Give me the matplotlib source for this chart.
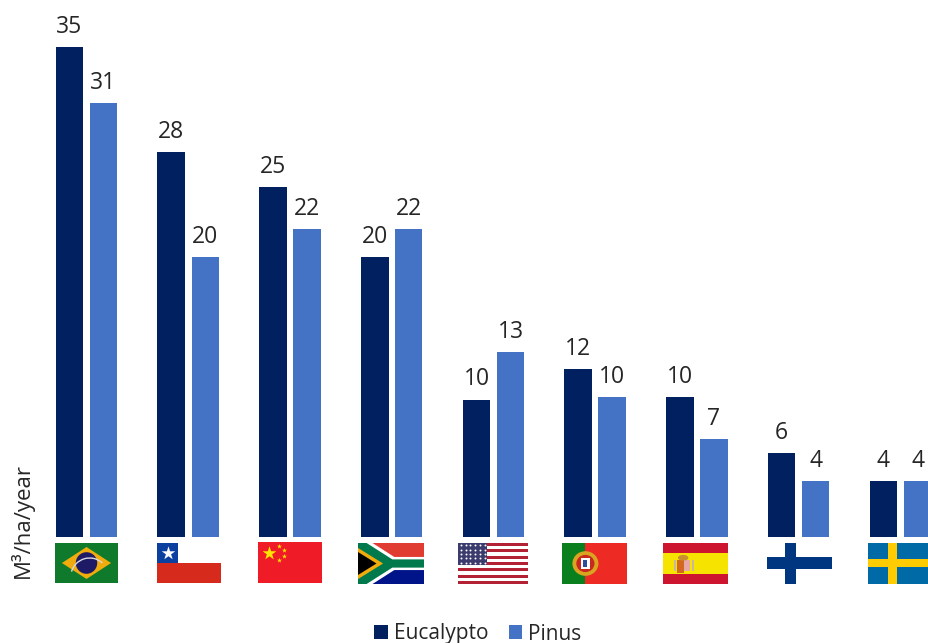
import numpy as np
import matplotlib
matplotlib.use("Agg")
import matplotlib.pyplot as plt
from matplotlib.patches import Rectangle, Polygon, Ellipse, Arc

plt.rcParams['font.family'] = ['Open Sans', 'DejaVu Sans']

W, H = 929, 643

countries = ['Brazil', 'Chile', 'China', 'South Africa', 'USA', 'Portugal', 'Spain', 'Finland', 'Sweden']
eucalypto = [35, 27.5, 25, 20, 9.8, 12, 10, 6, 4]
pinus = [31, 20, 22, 22, 13.2, 10, 7, 4, 4]
eucalypto_labels = ['35', '28', '25', '20', '10', '12', '10', '6', '4']
pinus_labels = ['31', '20', '22', '22', '13', '10', '7', '4', '4']

navy = '#002060'
blue = '#4472C4'

fig = plt.figure(figsize=(W / 100, H / 100), dpi=100)
ax = fig.add_axes([0, (H - 537) / H, 1, 537 / H])
ax.set_xlim(-86.5 / 101.75, (W - 86.5) / 101.75)
ax.set_ylim(0, 537 / 14)
ax.axis('off')

x = np.arange(len(countries))
off = 17 / 101.75
bw = 27.5 / 101.75
b1 = ax.bar(x - off, eucalypto, bw, color=navy, label='Eucalypto')
b2 = ax.bar(x + off, pinus, bw, color=blue, label='Pinus')
ax.bar_label(b1, labels=eucalypto_labels, padding=6, fontsize=16.5, color='#262626')
ax.bar_label(b2, labels=pinus_labels, padding=6, fontsize=16.5, color='#262626')
for t in ax.texts:
    t.set_clip_on(False)

fig.text(22 / W, 1 - 521 / H, 'M³/ha/year', rotation=90, ha='center', va='center',
         fontsize=16, color='#262626')

fig.legend(handles=[b1, b2], ncol=2, loc='center', bbox_to_anchor=(478 / W, 1 - 634 / H),
           frameon=False, fontsize=15, handlelength=0.65, handleheight=0.65,
           handletextpad=0.3, columnspacing=0.95, labelcolor='#262626',
           borderpad=0, borderaxespad=0)


def flag_axes(x0, x1, y0, y1):
    a = fig.add_axes([x0 / W, 1 - y1 / H, (x1 - x0) / W, (y1 - y0) / H])
    a.set_xlim(0, 1)
    a.set_ylim(1, 0)
    a.axis('off')
    return a


def rect(a, x0, y0, w, h, c):
    a.add_patch(Rectangle((x0, y0), w, h, color=c, lw=0))


# flags, each in its own little axes
a = flag_axes(55, 118, 543, 583)
rect(a, 0, 0, 1, 1, '#0F7A2C')
a.add_patch(Polygon([(0.11, 0.5), (0.5, 0.1), (0.89, 0.5), (0.5, 0.9)], color='#F0AB0C', lw=0))
a.add_patch(Ellipse((0.5, 0.5), 0.34, 0.54, color='#1F1A66', lw=0))
a.add_patch(Arc((0.55, 0.85), 0.6, 0.95, theta1=205, theta2=300, color='#D8D8E0', lw=1))

a = flag_axes(157, 221, 543, 583)
rect(a, 0, 0, 1, 1, 'white')
rect(a, 0, 0.5, 1, 0.5, '#D62B1C')
rect(a, 0, 0, 0.33, 0.5, '#0B3FA0')
a.scatter([0.165], [0.25], marker='*', s=105, color='white', lw=0)

a = flag_axes(258, 322, 542, 583)
rect(a, 0, 0, 1, 1, '#EF1C27')
a.scatter([0.17], [0.26], marker='*', s=110, color='#FFE600', lw=0)
a.scatter([0.33, 0.4, 0.4, 0.33], [0.09, 0.2, 0.34, 0.45], marker='*', s=14, color='#FFE600', lw=0)

a = flag_axes(358, 424, 543, 584)
rect(a, 0, 0, 1, 0.5, '#E03C31')
rect(a, 0, 0.5, 1, 0.5, '#001489')
a.add_patch(Polygon([(0, 0), (0.22, 0), (0.55, 0.34), (1, 0.34), (1, 0.66), (0.55, 0.66), (0.22, 1), (0, 1)],
                    color='white', lw=0))
a.add_patch(Polygon([(0, 0), (0.13, 0), (0.52, 0.4), (1, 0.4), (1, 0.6), (0.52, 0.6), (0.13, 1), (0, 1)],
                    color='#007A4D', lw=0))
a.add_patch(Polygon([(0, 0.12), (0.38, 0.5), (0, 0.88)], color='#F0AB0C', lw=0))
a.add_patch(Polygon([(0, 0.22), (0.28, 0.5), (0, 0.78)], color='black', lw=0))

a = flag_axes(458, 528, 543, 584)
rect(a, 0, 0, 1, 1, 'white')
for i in range(7):
    rect(a, 0, i * 2 / 13, 1, 1 / 13, '#B22234')
rect(a, 0, 0, 0.42, 7 / 13, '#3C3B6E')
xs, ys = np.meshgrid(np.linspace(0.04, 0.38, 6), np.linspace(0.06, 0.48, 5))
a.scatter(xs.ravel(), ys.ravel(), s=2, color='white', lw=0)

a = flag_axes(562, 627, 543, 584)
rect(a, 0, 0, 1, 1, '#EE2A24')
rect(a, 0, 0, 0.36, 1, '#0A7F1D')
a.add_patch(Ellipse((0.36, 0.5), 0.4, 0.6, color='#D9A520', lw=0))
a.add_patch(Ellipse((0.36, 0.5), 0.28, 0.42, color='#C8281E', lw=0))
a.add_patch(Rectangle((0.29, 0.36), 0.14, 0.28, color='white', lw=0))
a.add_patch(Rectangle((0.33, 0.42), 0.06, 0.16, color='#2B4C9B', lw=0))

a = flag_axes(663, 728, 543, 584)
rect(a, 0, 0, 1, 1, '#CE1530')
rect(a, 0, 0.25, 1, 0.5, '#F6E400')
rect(a, 0.22, 0.42, 0.1, 0.3, '#D2691E')
rect(a, 0.32, 0.42, 0.1, 0.26, '#E8A8A8')
a.add_patch(Ellipse((0.31, 0.36), 0.16, 0.14, color='#C89030', lw=0))
rect(a, 0.17, 0.42, 0.03, 0.26, '#C8B8A0')
rect(a, 0.44, 0.42, 0.03, 0.26, '#C8B8A0')

a = flag_axes(767, 832, 543, 584)
rect(a, 0, 0, 1, 1, 'white')
rect(a, 0.28, 0, 0.17, 1, '#003580')
rect(a, 0, 0.34, 1, 0.29, '#003580')

a = flag_axes(868, 934, 543, 584)
rect(a, 0, 0, 1, 1, '#006AA7')
rect(a, 0.3, 0, 0.14, 1, '#FECC00')
rect(a, 0, 0.39, 1, 0.2, '#FECC00')

plt.savefig('out.png', dpi=100)
